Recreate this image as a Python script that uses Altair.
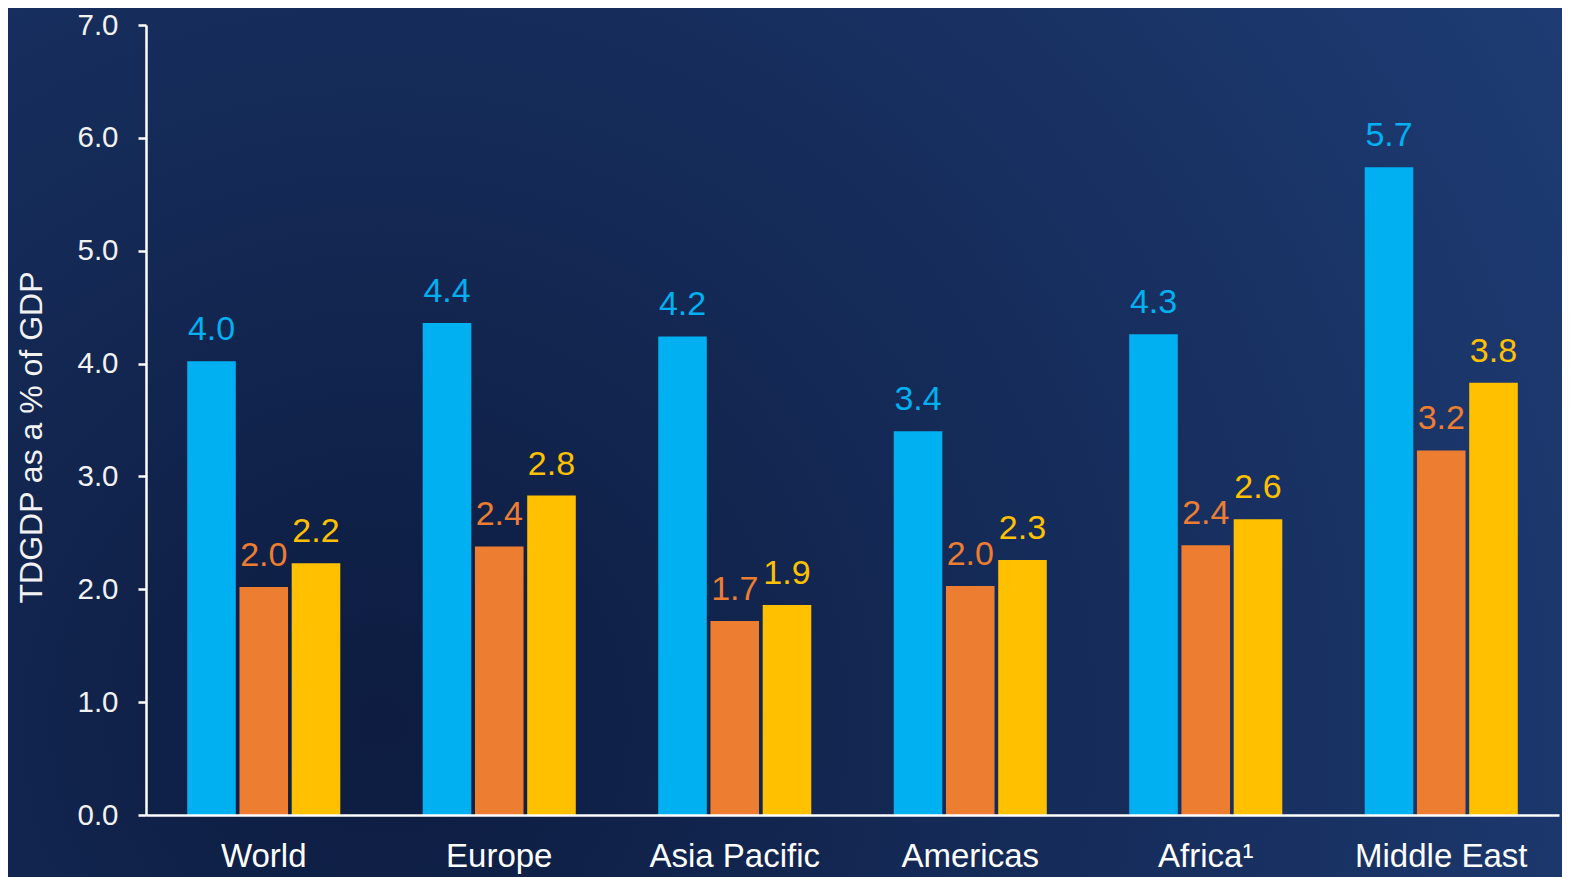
import altair as alt
import pandas as pd

regions = ["World", "Europe", "Asia Pacific", "Americas", "Africa¹", "Middle East"]
series = ["Series 1", "Series 2", "Series 3"]
blue_vals = [4.02, 4.36, 4.24, 3.40, 4.26, 5.74]
orange_vals = [2.02, 2.38, 1.72, 2.03, 2.39, 3.23]
yellow_vals = [2.23, 2.83, 1.86, 2.26, 2.62, 3.83]
colors = ["#00B0F0", "#ED7D31", "#FFC000"]
y_ticks = [0, 1, 2, 3, 4, 5, 6, 7]
y_title = "TDGDP as a % of GDP"

rows = []
for i, r in enumerate(regions):
    for s, vals in zip(series, [blue_vals, orange_vals, yellow_vals]):
        rows.append({"region": r, "series": s, "value": vals[i]})
df = pd.DataFrame(rows)

W, H = 1413, 790
PAD = {"left": 138, "top": 17, "right": 3, "bottom": 62}
FONT = "Liberation Sans"

bg = alt.Chart(pd.DataFrame({"k": [0]})).mark_rect(
    fill={
        "gradient": "radial",
        "x1": 0.24, "y1": 0.68, "r1": 0,
        "x2": 0.24, "y2": 0.68, "r2": 0.9,
        "stops": [
            {"offset": 0, "color": "#0d1c40"},
            {"offset": 1, "color": "#1e3c74"},
        ],
    }
).encode(
    x=alt.value(-PAD["left"]),
    x2=alt.value(W + PAD["right"]),
    y=alt.value(-PAD["top"]),
    y2=alt.value(H + PAD["bottom"]),
)

x = alt.X(
    "region:N",
    sort=regions,
    scale=alt.Scale(paddingInner=0.35, paddingOuter=0.175),
    axis=alt.Axis(
        title=None, labelAngle=0, labelFontSize=33, labelColor="#FFFFFF",
        labelFont=FONT, ticks=False, domainColor="#FFFFFF", domainWidth=2.5,
        labelPadding=25, zindex=1,
    ),
)
xo = alt.XOffset("series:N", sort=series, scale=alt.Scale(paddingInner=0.07))
y = alt.Y(
    "value:Q",
    scale=alt.Scale(domain=[0, 7], nice=False),
    axis=alt.Axis(
        values=y_ticks, format=".1f", grid=False, title=y_title,
        domainColor="#FFFFFF", domainWidth=2.5, tickColor="#FFFFFF",
        tickSize=8, tickWidth=2.5, labelFontSize=29.5, labelColor="#F2F2F2",
        labelFont=FONT, labelPadding=20, titleFontSize=32,
        titleFontWeight="normal", titleColor="#F2F2F2", titleFont=FONT,
        titlePadding=28, titleY=412, zindex=1,
    ),
)
color = alt.Color("series:N", sort=series,
                  scale=alt.Scale(domain=series, range=colors), legend=None)

base = alt.Chart(df)
bars = base.mark_bar().encode(x=x, xOffset=xo, y=y, color=color)
labels = base.mark_text(baseline="alphabetic", dy=-21, fontSize=34, font=FONT).encode(
    x=x, xOffset=xo, y=y, text=alt.Text("value:Q", format=".1f"), color=color
)

chart = alt.layer(bg, bars, labels).properties(
    width=W, height=H,
    autosize=alt.AutoSizeParams(type="none"),
    padding=PAD,
    background="#14295a",
).configure_view(strokeWidth=0)

chart.save("out.html", embed_options={"renderer": "svg", "actions": False})
